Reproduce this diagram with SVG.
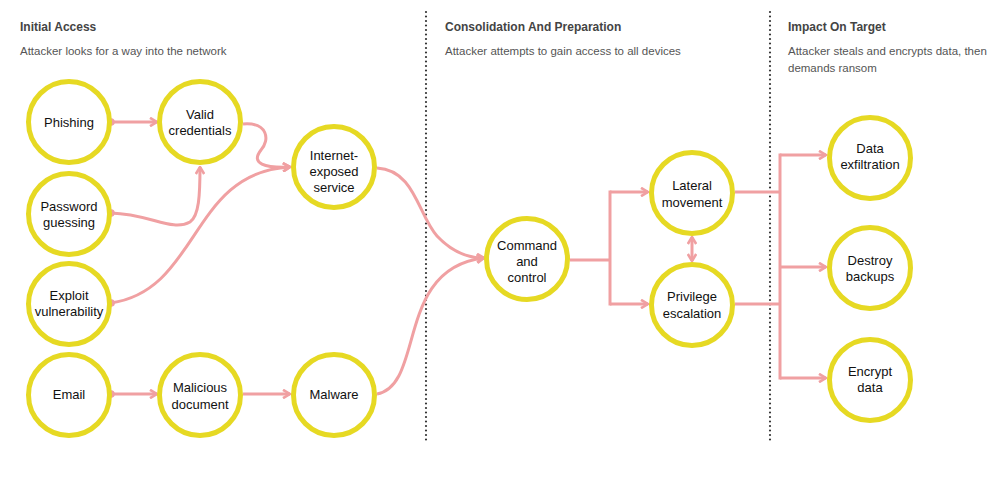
<svg xmlns="http://www.w3.org/2000/svg" width="999" height="503" viewBox="0 0 999 503">
<style>
.bg{fill:#ffffff}
.h{font-family:"Liberation Sans",Arial,sans-serif;font-weight:bold;font-size:12px;fill:#444444}
.s{font-family:"Liberation Sans",Arial,sans-serif;font-size:11.5px;fill:#555555}
.node circle{fill:#ffffff;stroke:#E6D923;stroke-width:5}
.node text{font-family:"Liberation Sans",Arial,sans-serif;font-size:13px;fill:#111111;text-anchor:middle}
.div{stroke:#333333;stroke-width:2.2;stroke-linecap:round;stroke-dasharray:0 4.5;fill:none}
.c{fill:none;stroke:#F0A0A2;stroke-width:3}
.a{marker-end:url(#arr)}
.d{marker-start:url(#dot)}
</style>
<defs>
<marker id="arr" viewBox="0 0 10 10" markerWidth="10" markerHeight="10" refX="8.5" refY="5" orient="auto-start-reverse" markerUnits="userSpaceOnUse">
<path d="M1.5,0.8 L8.5,5 L1.5,9.2" fill="none" stroke="#F0A0A2" stroke-width="2.6" stroke-linejoin="miter"/>
</marker>
<marker id="dot" viewBox="0 0 10 10" markerWidth="10" markerHeight="10" refX="5" refY="5" orient="auto" markerUnits="userSpaceOnUse">
<circle cx="5" cy="5" r="3.8" fill="#F0A0A2"/>
</marker>
</defs>
<rect class="bg" x="0" y="0" width="999" height="503"/>

<g id="headers">
<text class="h" x="20" y="31">Initial Access</text>
<text class="s" x="20" y="55">Attacker looks for a way into the network</text>
<text class="h" x="445" y="31">Consolidation And Preparation</text>
<text class="s" x="445" y="55">Attacker attempts to gain access to all devices</text>
<text class="h" x="788" y="31">Impact On Target</text>
<text class="s" x="788" y="55">Attacker steals and encrypts data, then</text>
<text class="s" x="788" y="72">demands ransom</text>
</g>

<g id="dividers">
<line class="div" x1="426" y1="12" x2="426" y2="440"/>
<line class="div" x1="770" y1="12" x2="770" y2="440"/>
</g>

<g id="connectors">
<path class="c a d" d="M111,122 L157,122"/>
<path class="c a d" d="M111,213 C150,214 172,232 190,222 C199,216 200,195 200,167"/>
<path class="c a" d="M243,124 C268,122 270,140 261,150 C250,164 265,168 290,167"/>
<path class="c a d" d="M111,303 C200,290 190,172 290,167"/>
<path class="c a d" d="M111,394 L157,394"/>
<path class="c a" d="M243,394 L290,394"/>
<path class="c a" d="M377,168 C415,170 418,215 437,236 C452,252 468,258 484,258"/>
<path class="c a" d="M377,394 C425,385 395,268 484,258"/>
<path class="c" d="M570,260 L610,260"/>
<path class="c a" d="M610,192 L648,192"/>
<path class="c a" d="M610,304 L648,304"/>
<path class="c" d="M610,190.5 L610,305.5"/>
<path class="c a" d="M692,237 L692,261" style="marker-start:url(#arr)"/>
<path class="c" d="M735,192 L780,192"/>
<path class="c" d="M735,304 L780,304"/>
<path class="c" d="M780,153.5 L780,379.5"/>
<path class="c a" d="M780,155 L826,155"/>
<path class="c a" d="M780,267 L826,267"/>
<path class="c a" d="M780,378 L826,378"/>
</g>

<g id="phishing" class="node"><circle cx="69" cy="122" r="40.5"/><text x="69" y="126.5">Phishing</text></g>
<g id="valid-credentials" class="node"><circle cx="200" cy="122" r="40.5"/><text x="200" y="118.5">Valid</text><text x="200" y="135">credentials</text></g>
<g id="password-guessing" class="node"><circle cx="69" cy="214" r="40.5"/><text x="69" y="210.5">Password</text><text x="69" y="227">guessing</text></g>
<g id="exploit-vulnerability" class="node"><circle cx="69" cy="304" r="40.5"/><text x="69" y="299.5">Exploit</text><text x="69" y="316">vulnerability</text></g>
<g id="email" class="node"><circle cx="69" cy="395" r="40.5"/><text x="69" y="398.5">Email</text></g>
<g id="malicious-document" class="node"><circle cx="200" cy="395" r="40.5"/><text x="200" y="392">Malicious</text><text x="200" y="408.5">document</text></g>
<g id="malware" class="node"><circle cx="334" cy="395" r="40.5"/><text x="334" y="398.5">Malware</text></g>
<g id="internet-exposed-service" class="node"><circle cx="334" cy="167" r="40.5"/><text x="334" y="159.5">Internet-</text><text x="334" y="175.5">exposed</text><text x="334" y="191.5">service</text></g>
<g id="command-and-control" class="node"><circle cx="527" cy="259" r="40.5"/><text x="527" y="249.5">Command</text><text x="527" y="266">and</text><text x="527" y="282">control</text></g>
<g id="lateral-movement" class="node"><circle cx="692" cy="193" r="40.5"/><text x="692" y="190">Lateral</text><text x="692" y="206.5">movement</text></g>
<g id="privilege-escalation" class="node"><circle cx="692" cy="305" r="40.5"/><text x="692" y="301">Privilege</text><text x="692" y="317.5">escalation</text></g>
<g id="data-exfiltration" class="node"><circle cx="870" cy="158" r="40.5"/><text x="870" y="152.5">Data</text><text x="870" y="169">exfiltration</text></g>
<g id="destroy-backups" class="node"><circle cx="870" cy="268" r="40.5"/><text x="870" y="264.5">Destroy</text><text x="870" y="280.5">backups</text></g>
<g id="encrypt-data" class="node"><circle cx="870" cy="380" r="40.5"/><text x="870" y="376">Encrypt</text><text x="870" y="392">data</text></g>
</svg>
